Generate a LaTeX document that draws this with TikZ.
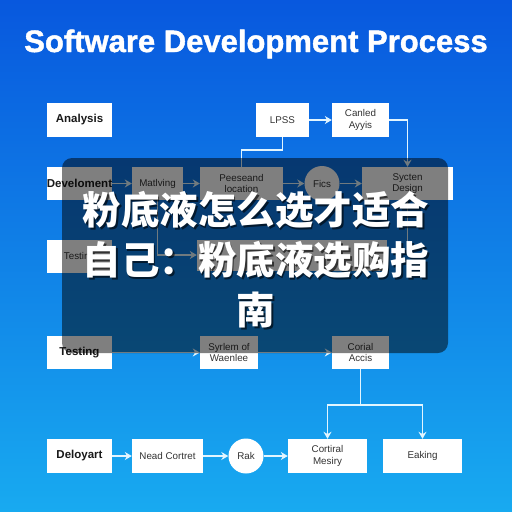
\documentclass[tikz,border=0pt]{standalone}
\usepackage{fontspec}
\setmainfont{Liberation Sans}
\newfontfamily\titlefont{Liberation Sans}[BoldFeatures={FakeBold=1.4}]
\newfontfamily\cjk{Noto Sans CJK SC}
\usetikzlibrary{arrows.meta}
\definecolor{bgtop}{HTML}{0858DE}
\definecolor{bgmid}{HTML}{0E86EA}
\definecolor{bgbot}{HTML}{18AAF0}
\definecolor{wirecol}{HTML}{E2F5FF}
\definecolor{labelgray}{HTML}{333333}

\begin{document}
\begin{tikzpicture}[x=1pt,y=-1pt,
  box/.style={rectangle,fill=white,inner sep=0pt,align=center,text=labelgray,
    font=\fontsize{9.8}{11.5}\selectfont},
  stage/.style={box,text=black!90,font=\fontsize{11.5}{13}\selectfont\bfseries,
    minimum width=65pt},
  dot/.style={circle,fill=white,inner sep=0pt,minimum size=35pt,text=labelgray,
    font=\fontsize{9.8}{11.5}\selectfont},
  wire/.style={draw=wirecol,line width=1.8pt},
  flow/.style={wire,-{Stealth[length=7pt,width=8pt]}},
  headline/.style={align=center,font=\cjk\bfseries\fontsize{38.5}{50}\selectfont}]
\useasboundingbox (0,0) rectangle (512,512);
\shade[top color=bgtop,middle color=bgmid,bottom color=bgbot] (0,0) rectangle (512,512);
\node[text=white,font=\titlefont\bfseries\fontsize{31}{36}\selectfont] (title) at (256,44) {Software Development Process};

\node[stage,minimum height=34pt] (ana) at (79.5,120) {Analysis};
\node[box,minimum width=53pt,minimum height=34pt] (lpss) at (282.5,120) {LPSS};
\node[box,minimum width=57pt,minimum height=34pt] (canl) at (360.5,120) {Canled\\Ayyis};

\node[stage,minimum height=33pt] (dev) at (79.5,183.5) {Develoment};
\node[box,minimum width=51pt,minimum height=33pt] (matl) at (157.5,183.5) {Matlving};
\node[box,minimum width=83pt,minimum height=33pt] (pass) at (241.5,183.5) {Peeseand\\location};
\node[dot] (fics) at (322,183.5) {Fics};
\node[box,minimum width=91pt,minimum height=33pt] (sysd) at (407.5,183.5) {Sycten\\Design};

\node[box,minimum width=65pt,minimum height=33pt] (tstb) at (79.5,256.5) {Testing};
\node[box,minimum width=190pt,minimum height=31pt] (hid) at (292,255) {};
\coordinate (sysend) at (407.5,245);

\node[stage,minimum height=33pt] (tst) at (79.5,352.5) {Testing};
\node[box,minimum width=58pt,minimum height=33pt] (syrw) at (229,352.5) {Syrlem of\\Waenlee};
\node[box,minimum width=57pt,minimum height=33pt] (cori) at (360.5,352.5) {Corial\\Accis};
\coordinate (split) at (360.5,405);

\node[stage,minimum height=34pt] (dep) at (79.5,456) {Deloyart};
\node[box,minimum width=71pt,minimum height=34pt] (need) at (167.5,456) {Nead Cortret};
\node[dot] (rak) at (246,456) {Rak};
\node[box,minimum width=79pt,minimum height=34pt] (cmes) at (327.5,456) {Cortiral\\Mesiry};
\node[box,minimum width=79pt,minimum height=34pt] (eak) at (422.5,456) {Eaking};

\draw[flow] (lpss) -- (canl);
\draw[flow] (canl.east) -| (sysd.north);
\draw[wire] (lpss.south) -- ++(0,13) -| (pass.north);
\draw[flow] (dev) -- (matl);
\draw[flow] (matl) -- (pass);
\draw[flow] (pass) -- (fics);
\draw[flow] (fics) -- (sysd);
\draw[flow] (matl.south) |- (hid.west);
\draw[wire] (sysd.south) -- (sysend);
\draw[flow] (tst) -- (syrw);
\draw[flow] (syrw) -- (cori);
\draw[wire] (cori.south) -- (split);
\draw[flow] (split) -| (cmes.north);
\draw[flow] (split) -| (eak.north);
\draw[flow] (dep) -- (need);
\draw[flow] (need) -- (rak);
\draw[flow] (rak) -- (cmes);

\fill[black,fill opacity=0.5,rounded corners=10pt] (62,158) rectangle (448,353);
\node[headline,text=black,text opacity=0.6] (shadow) at (257.5,261.5) {粉底液怎么选才适合\\自己：粉底液选购指\\南};
\node[headline,text=white] (headtext) at (256,260) {粉底液怎么选才适合\\自己：粉底液选购指\\南};
\end{tikzpicture}
\end{document}
